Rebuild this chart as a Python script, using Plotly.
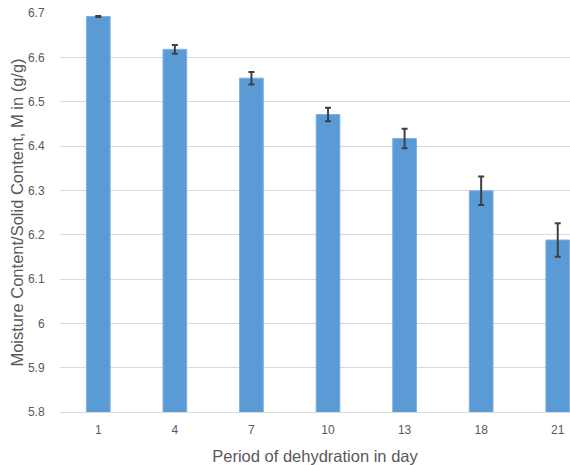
import plotly.graph_objects as go

# Moisture content during dehydration
days = ["1", "4", "7", "10", "13", "18", "21"]
moisture = [6.692, 6.618, 6.553, 6.471, 6.417, 6.299, 6.188]
moisture_err = [0.001, 0.010, 0.014, 0.015, 0.022, 0.032, 0.038]
y_ticks = [5.8, 5.9, 6.0, 6.1, 6.2, 6.3, 6.4, 6.5, 6.6, 6.7]
y_tick_text = ["5.8", "5.9", "6", "6.1", "6.2", "6.3", "6.4", "6.5", "6.6", "6.7"]

fig = go.Figure(
    go.Bar(
        x=days,
        y=moisture,
        marker=dict(color="#5b9bd5", line=dict(color="#80b1e2", width=1)),
        error_y=dict(type="data", array=moisture_err, color="#404040",
                     thickness=2, width=3),
    )
)

fig.update_layout(
    width=570,
    height=465,
    margin=dict(l=60, r=0, t=13, b=53),
    paper_bgcolor="white",
    plot_bgcolor="white",
    bargap=0.69,
    showlegend=False,
    font=dict(family="Liberation Sans, Arial, sans-serif", color="#595959"),
    xaxis=dict(
        type="category",
        range=[-0.5, 6.16],
        showgrid=False,
        showline=True,
        linecolor="#d9d9d9",
        linewidth=1,
        ticks="outside",
        ticklen=7,
        tickcolor="rgba(0,0,0,0)",
        tickfont=dict(size=12, color="#595959"),
        title=dict(text="Period of dehydration in day",
                   font=dict(size=16.5, color="#595959"), standoff=14),
    ),
    yaxis=dict(
        range=[5.8, 6.7],
        tickvals=y_ticks,
        ticktext=y_tick_text,
        showgrid=True,
        gridcolor="#d9d9d9",
        gridwidth=1,
        zeroline=False,
        showline=False,
        ticks="outside",
        ticklen=12,
        tickcolor="rgba(0,0,0,0)",
        tickfont=dict(size=12, color="#595959"),
        title=dict(text="Moisture Content/Solid Content, M in (g/g)",
                   font=dict(size=16.5, color="#595959"), standoff=0),
    ),
)

fig.write_html("out.html")
